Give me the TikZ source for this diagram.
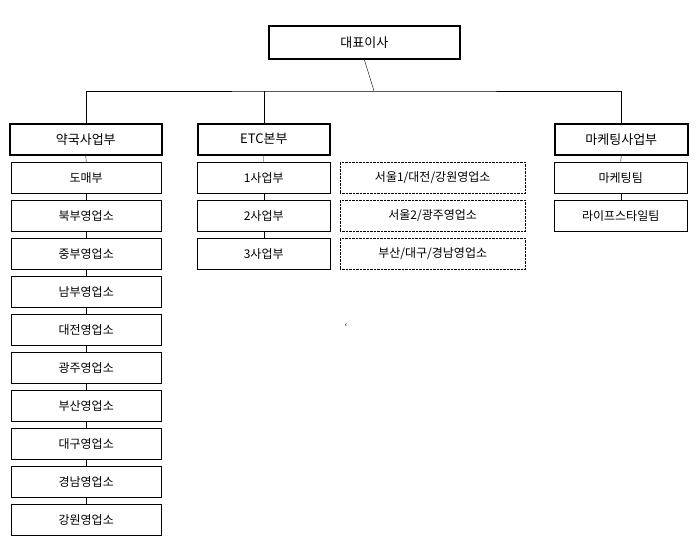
\documentclass[tikz,border=0pt]{standalone}
\usepackage{fontspec}
\setmainfont{Noto Sans CJK KR}
\begin{document}
\begin{tikzpicture}[x=1pt,y=-1pt,
    headbox/.style={draw,line width=1.6pt,anchor=north west,minimum width=150pt,minimum height=31pt,inner sep=0pt,font=\fontsize{13}{15}\selectfont},
    unitbox/.style={draw,thin,anchor=north west,minimum width=150pt,minimum height=31pt,inner sep=0pt,font=\fontsize{12}{14}\selectfont},
    officebox/.style={unitbox,densely dotted,minimum width=185pt}]
  \useasboundingbox (0,0) rectangle (700,544);
  % top
  \node[headbox,minimum width=191pt,minimum height=33pt] (ceo) at (268,25) {대표이사};
  \node[headbox,minimum width=152pt] (pharm) at (9,123) {약국사업부};
  \node[headbox,minimum width=132pt] (etc) at (197,123) {ETC본부};
  \node[headbox,minimum width=133pt] (mkt) at (554,123) {마케팅사업부};
  \coordinate (bus) at (374,91);
  \draw (ceo.south) -- (bus);
  \draw (pharm.north) |- (bus) -| (mkt.north);
  \draw (etc.north) -- (etc.north |- bus);
  % pharmacy units
  \foreach \name [count=\i from 0] in {도매부,북부영업소,중부영업소,남부영업소,대전영업소,광주영업소,부산영업소,대구영업소,경남영업소,강원영업소}
    \node[unitbox] (p\i) at (11,162+38*\i) {\name};
  \draw (pharm.south) -- (p0.north);
  \foreach \i [evaluate=\i as \j using int(\i+1)] in {0,...,8}
    \draw (p\i.south) -- (p\j.north);
  % etc units
  \foreach \name [count=\i from 0] in {1사업부,2사업부,3사업부}
    \node[unitbox,minimum width=133pt] (e\i) at (197,162+38*\i) {\name};
  \draw (etc.south) -- (e0.north);
  \draw (e0.south) -- (e1.north);
  \draw (e1.south) -- (e2.north);
  \foreach \name [count=\i from 0] in {서울1/대전/강원영업소,서울2/광주영업소,부산/대구/경남영업소}
    \node[officebox] (o\i) at (340,162+38*\i) {\name};
  % marketing units
  \node[unitbox,minimum width=133pt] (m0) at (554,162) {마케팅팀};
  \node[unitbox,minimum width=133pt] (m1) at (554,200) {라이프스타일팀};
  \draw (mkt.south) -- (m0.north);
  \draw (m0.south) -- (m1.north);
  \node[font=\small] (tick) at (346,327) {`};
\end{tikzpicture}
\end{document}
